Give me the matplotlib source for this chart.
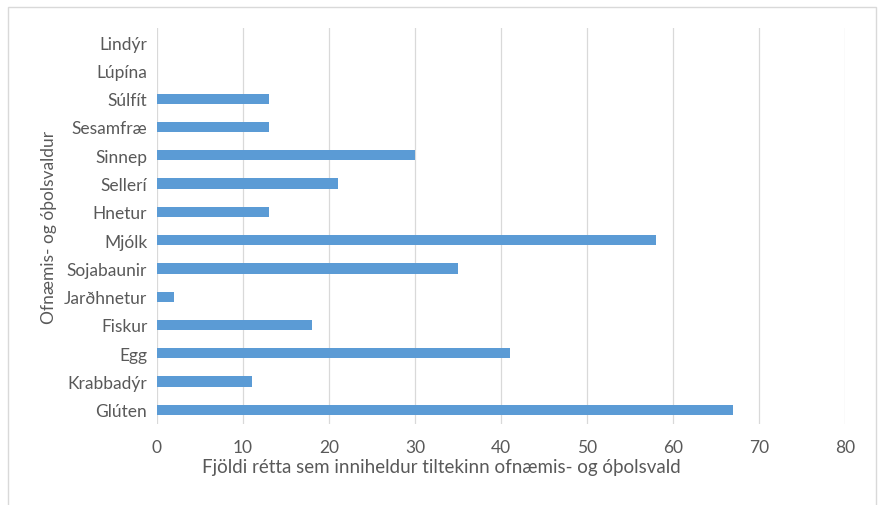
import matplotlib
matplotlib.use("Agg")
import matplotlib.pyplot as plt
from matplotlib.patches import Rectangle

# categories listed bottom to top, as drawn
allergens = ["Glúten", "Krabbadýr", "Egg", "Fiskur", "Jarðhnetur", "Sojabaunir",
             "Mjólk", "Hnetur", "Sellerí", "Sinnep", "Sesamfræ", "Súlfít",
             "Lúpína", "Lindýr"]
dish_counts = [67, 11, 41, 18, 2, 35, 58, 13, 21, 30, 13, 13, 0, 0]
x_ticks = [0, 10, 20, 30, 40, 50, 60, 70, 80]

plt.rcParams['font.family'] = ['Lato', 'DejaVu Sans']
text_color = '#595959'

fig = plt.figure(figsize=(8.82, 5.06), dpi=100)
ax = fig.add_axes([157 / 882, 1 - 425 / 506, (845 - 157) / 882, (425 - 29) / 506])

ax.barh(range(len(allergens)), dish_counts, height=0.36, color='#5b9bd5', zorder=3)

ax.set_xlim(0, 80)
ax.set_ylim(-0.5, len(allergens) - 0.5)
ax.set_xticks(x_ticks)
ax.set_yticks(range(len(allergens)))
ax.set_yticklabels(allergens)
ax.grid(axis='x', color='#d9d9d9', linewidth=0.9, zorder=0)
ax.tick_params(axis='both', length=0, labelsize=12.5, colors=text_color)
ax.tick_params(axis='x', pad=11)
ax.tick_params(axis='y', pad=7)
for s in ax.spines.values():
    s.set_visible(False)

ax.set_xlabel('Fjöldi rétta sem inniheldur tiltekinn ofnæmis- og óþolsvald',
              fontsize=13.5, color=text_color)
# the x title sits centred on the whole chart, not on the plot area
ax.xaxis.set_label_coords(0.413, -0.085)
ax.set_ylabel('Ofnæmis- og óþolsvaldur', fontsize=12.5, color=text_color, labelpad=5)

# thin frame around the chart area, like the exported chart box
fig.patches.append(Rectangle((8 / 882, -0.02), (876 - 8) / 882, 1 - 8 / 506 + 0.02,
                             transform=fig.transFigure, fill=False,
                             edgecolor='#d9d9d9', linewidth=1.0))

fig.savefig('out.png', dpi=100)
